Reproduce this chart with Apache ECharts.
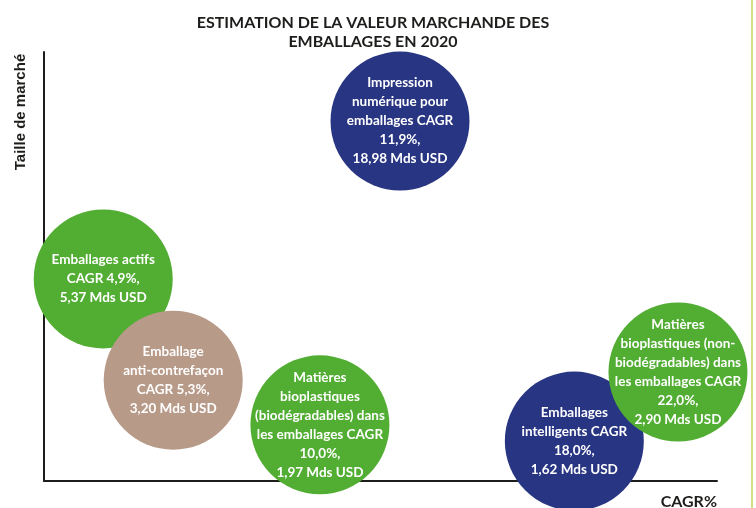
<!DOCTYPE html>
<html>
<head>
<meta charset="utf-8">
<title>Estimation de la valeur marchande des emballages en 2020</title>
<script src="https://cdn.jsdelivr.net/npm/echarts@6/dist/echarts.min.js"></script>
<style>
  html, body { margin: 0; padding: 0; background: #fff; }
  #chart { width: 756px; height: 508px; }
</style>
</head>
<body>
<div id="chart"></div>
<script>
// segments (ordre de dessin : les derniers passent dessus)
const segments = [
  'Emballages actifs',
  'Emballage anti-contrefaçon',
  'Matières bioplastiques (biodégradables)',
  'Impression numérique pour emballages',
  'Emballages intelligents',
  'Matières bioplastiques (non-biodégradables)'
]
// libellés tels qu'écrits dans les bulles
const labels = [
  'Emballages actifs\nCAGR 4,9%,\n5,37 Mds USD',
  'Emballage\nanti-contrefaçon\nCAGR 5,3%,\n3,20 Mds USD',
  'Matières\nbioplastiques\n(biodégradables) dans\nles emballages CAGR\n10,0%,\n1,97 Mds USD',
  'Impression\nnumérique pour\nemballages CAGR\n11,9%,\n18,98 Mds USD',
  'Emballages\nintelligents CAGR\n18,0%,\n1,62 Mds USD',
  'Matières\nbioplastiques (non-\nbiodégradables) dans\nles emballages CAGR\n22,0%,\n2,90 Mds USD'
]
const cagr = [4.9, 5.3, 10.0, 11.9, 18.0, 22.0]
const marche = [5.37, 3.20, 1.97, 18.98, 1.62, 2.90]
const axeCagr = [8.8, 19.2, 41.0, 52.9, 78.8, 94.2]
const axeTaille = [47.1, 23.5, 13.1, 83.9, 9.3, 25.4]
const couleurs = ['#52ad33', '#b89a89', '#52ad33', '#283583', '#283583', '#52ad33']

const chart = echarts.init(document.getElementById('chart'))

const axisCommon = {
  type: 'value',
  min: 0,
  max: 100,
  axisLine: { show: true, onZero: false, lineStyle: { color: '#1d1d1b', width: 2 } },
  axisTick: { show: false },
  axisLabel: { show: false },
  splitLine: { show: false }
}

const option = {
  animation: false,
  title: {
    text: 'ESTIMATION DE LA VALEUR MARCHANDE DES\nEMBALLAGES EN 2020',
    left: 373,
    textAlign: 'center',
    top: 13,
    padding: 0,
    textStyle: {
      fontFamily: 'Lato',
      fontSize: 16,
      fontWeight: 'bold',
      lineHeight: 19,
      color: '#1d1d1b'
    }
  },
  grid: { left: 44, right: 39, top: 52, bottom: 27 },
  xAxis: axisCommon,
  yAxis: axisCommon,
  series: [
    {
      type: 'scatter',
      symbolSize: 139,
      data: segments.map((name, i) => ({
        name: name,
        value: [axeCagr[i], axeTaille[i], cagr[i], marche[i]],
        itemStyle: { color: couleurs[i], opacity: 1 }
      })),
      label: {
        show: true,
        position: 'inside',
        color: '#fff',
        fontFamily: 'Lato',
        fontWeight: 'bold',
        fontSize: 13.5,
        lineHeight: 19,
        formatter: (p) => labels[p.dataIndex]
      },
      emphasis: { disabled: true }
    }
  ],
  graphic: [
    {
      type: 'text',
      x: 21,
      y: 112,
      rotation: Math.PI / 2,
      style: {
        text: 'Taille de marché',
        font: 'bold 15px "Liberation Sans", Arial, sans-serif',
        fill: '#1d1d1b',
        textAlign: 'center',
        textVerticalAlign: 'middle'
      }
    },
    {
      type: 'text',
      x: 717,
      y: 502,
      style: {
        text: 'CAGR%',
        font: 'bold 16px Lato, sans-serif',
        fill: '#1d1d1b',
        textAlign: 'right',
        textVerticalAlign: 'middle'
      }
    },
    {
      // filet vert du cadre à droite
      type: 'line',
      shape: { x1: 752, y1: 0, x2: 752, y2: 508 },
      style: { stroke: '#c3d55a', lineWidth: 1.5 }
    }
  ]
}

chart.setOption(option)
</script>
</body>
</html>
